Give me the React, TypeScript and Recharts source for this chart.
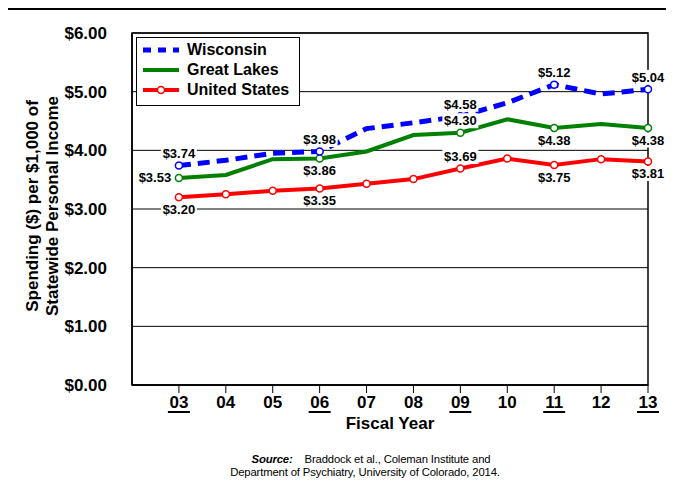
import {
  LineChart,
  Line,
  XAxis,
  YAxis,
  CartesianGrid,
  ReferenceArea,
  LabelList,
  Label,
} from 'recharts';

const years = [3, 4, 5, 6, 7, 8, 9, 10, 11, 12, 13];
const yearLabels = ['03', '04', '05', '06', '07', '08', '09', '10', '11', '12', '13'];
const underlinedYears = [3, 6, 9, 11, 13];

const wisconsin = [3.74, 3.83, 3.95, 3.98, 4.37, 4.47, 4.58, 4.81, 5.12, 4.96, 5.04];
const greatLakes = [3.53, 3.58, 3.85, 3.86, 3.98, 4.26, 4.3, 4.53, 4.38, 4.45, 4.38];
const unitedStates = [3.2, 3.25, 3.31, 3.35, 3.43, 3.51, 3.69, 3.86, 3.75, 3.85, 3.81];

const yTicks = [0, 1, 2, 3, 4, 5, 6];

// where each point's value label sits (null = no label)
type Pos = 'top' | 'bottom' | 'left' | null;
const wiLabels: Pos[] = ['top', null, null, 'top', null, null, 'top', null, 'top', null, 'top'];
const glLabels: Pos[] = ['left', null, null, 'bottom', null, null, 'top', null, 'bottom', null, 'bottom'];
const usLabels: Pos[] = ['bottom', null, null, 'bottom', null, null, 'top', null, 'bottom', null, 'bottom'];

const data = years.map((year, i) => ({
  year,
  wi: wisconsin[i],
  gl: greatLakes[i],
  us: unitedStates[i],
}));

const FONT = 'Arial, "Liberation Sans", Helvetica, sans-serif';
const BLUE = '#0000ff';
const GREEN = '#008000';
const RED = '#ff0000';

const makeDot = (color: string, show: (i: number) => boolean) => (props: any) => {
  const { cx, cy, index } = props;
  if (!show(index) || cx == null) return <g key={`d${index}`} />;
  return (
    <circle
      key={`d${index}`}
      cx={cx}
      cy={cy}
      r={3.5}
      fill="#fff"
      stroke={color}
      strokeWidth={1.5}
      strokeDasharray="none"
    />
  );
};

const makeLabel = (positions: Pos[]) => (props: any) => {
  const { x, y, value, index } = props;
  const pos = positions[index];
  if (!pos) return null;
  let cx = x;
  let cy = y;
  if (pos === 'top') cy = y - 12;
  if (pos === 'bottom') cy = y + 12;
  if (pos === 'left') cx = x - 24;
  const text = `$${Number(value).toFixed(2)}`;
  return (
    <g key={`l${index}`}>
      <rect x={cx - 18} y={cy - 7.5} width={36} height={15} fill="#fff" />
      <text
        x={cx}
        y={cy + 4.5}
        textAnchor="middle"
        fontFamily={FONT}
        fontWeight="bold"
        fontSize={13}
        fill="#000"
      >
        {text}
      </text>
    </g>
  );
};

const YearTick = (props: any) => {
  const { x, y, payload } = props;
  const label = yearLabels[years.indexOf(payload.value)] ?? String(payload.value);
  const under = underlinedYears.includes(payload.value);
  return (
    <g>
      <text
        x={x}
        y={y + 15}
        textAnchor="middle"
        fontFamily={FONT}
        fontWeight="bold"
        fontSize={17}
        fill="#000"
      >
        {label}
      </text>
      {under && <rect x={x - 11} y={y + 18} width={22} height={2} fill="#000" />}
    </g>
  );
};

const YTitle = () => (
  <g fontFamily={FONT} fontWeight="bold" fontSize={17} fill="#000">
    <text x={38} y={206} textAnchor="middle" transform="rotate(-90 38 206)">
      Spending ($) per $1,000 of
    </text>
    <text x={58} y={206} textAnchor="middle" transform="rotate(-90 58 206)">
      Statewide Personal Income
    </text>
  </g>
);

const legendItems = [
  { name: 'Wisconsin', color: BLUE, dash: '8 7', width: 5, dot: false },
  { name: 'Great Lakes', color: GREEN, dash: undefined, width: 4, dot: false },
  { name: 'United States', color: RED, dash: undefined, width: 4, dot: true },
];

const ChartLegend = () => (
  <div
    style={{
      position: 'absolute',
      left: 136,
      top: 37,
      width: 164,
      height: 69,
      border: '1.5px solid #000',
      background: '#fff',
      boxSizing: 'border-box',
      paddingTop: 2,
    }}
  >
    {legendItems.map((it) => (
      <div key={it.name} style={{ display: 'flex', alignItems: 'center', height: 20 }}>
        <svg width={46} height={12} style={{ marginLeft: 4 }}>
          <line
            x1={2}
            y1={6}
            x2={38}
            y2={6}
            stroke={it.color}
            strokeWidth={it.width}
            strokeDasharray={it.dash}
          />
          {it.dot && <circle cx={20} cy={6} r={3.5} fill="#fff" stroke={it.color} strokeWidth={1.5} />}
        </svg>
        <span style={{ fontFamily: FONT, fontWeight: 'bold', fontSize: 16, color: '#000' }}>
          {it.name}
        </span>
      </div>
    ))}
  </div>
);

export default function App() {
  return (
    <div
      style={{
        position: 'relative',
        width: 674,
        height: 496,
        margin: -8,
        overflow: 'hidden',
        background: '#fff',
      }}
    >
      <div
        style={{
          position: 'absolute',
          left: 3,
          top: 6,
          width: 720,
          height: 540,
          borderTop: '4px solid #000',
          borderLeft: '4px solid #000',
        }}
      />
      <div style={{ position: 'absolute', left: 0, top: 0 }}>
        <LineChart width={674} height={496} data={data} margin={{ top: 33, right: 26, bottom: 0, left: 0 }}>
          <CartesianGrid horizontal vertical={false} stroke="#000" strokeWidth={1} />
          <XAxis
            dataKey="year"
            type="number"
            domain={[2, 13]}
            ticks={years}
            interval={0}
            height={111}
            axisLine={{ stroke: '#000', strokeWidth: 1.5 }}
            tickLine={{ stroke: '#000', strokeWidth: 1 }}
            tickSize={8}
            tickMargin={0}
            tick={<YearTick />}
          >
            <Label
              value="Fiscal Year"
              position="insideTop"
              offset={32}
              style={{ fontFamily: FONT, fontWeight: 'bold', fontSize: 17, fill: '#000' }}
            />
          </XAxis>
          <YAxis
            domain={[0, 6]}
            ticks={yTicks}
            width={132}
            axisLine={{ stroke: '#000', strokeWidth: 1.5 }}
            tickLine={false}
            tickMargin={19}
            tickFormatter={(v: number) => `$${v.toFixed(2)}`}
            tick={{ fontFamily: FONT, fontWeight: 'bold', fontSize: 17, fill: '#000' }}
          >
            <Label content={<YTitle />} />
          </YAxis>
          <ReferenceArea x1={2} x2={13} y1={0} y2={6} fill="none" stroke="#000" strokeWidth={1.5} />
          <Line
            dataKey="us"
            stroke={RED}
            strokeWidth={4}
            dot={makeDot(RED, () => true)}
            isAnimationActive={false}
          />
          <Line
            dataKey="gl"
            stroke={GREEN}
            strokeWidth={4}
            dot={makeDot(GREEN, (i) => glLabels[i] !== null)}
            isAnimationActive={false}
          />
          <Line
            dataKey="wi"
            stroke={BLUE}
            strokeWidth={5}
            strokeDasharray="12 7"
            dot={makeDot(BLUE, (i) => wiLabels[i] !== null)}
            isAnimationActive={false}
          />
          {/* invisible copies that only carry the value labels, so they sit above every line */}
          <Line dataKey="us" stroke="none" dot={false} legendType="none" isAnimationActive={false}>
            <LabelList dataKey="us" content={makeLabel(usLabels)} />
          </Line>
          <Line dataKey="gl" stroke="none" dot={false} legendType="none" isAnimationActive={false}>
            <LabelList dataKey="gl" content={makeLabel(glLabels)} />
          </Line>
          <Line dataKey="wi" stroke="none" dot={false} legendType="none" isAnimationActive={false}>
            <LabelList dataKey="wi" content={makeLabel(wiLabels)} />
          </Line>
        </LineChart>
      </div>
      <ChartLegend />
      <div
        style={{
          position: 'absolute',
          left: 0,
          top: 453,
          width: 730,
          textAlign: 'center',
          fontFamily: FONT,
          fontSize: 11.3,
          lineHeight: '12.5px',
          color: '#000',
          letterSpacing: -0.15,
        }}
      >
        <div style={{ paddingLeft: 12 }}>
          <b>
            <i>Source:</i>
          </b>
          &nbsp;&nbsp;&nbsp; Braddock et al., Coleman Institute and
        </div>
        <div>Department of Psychiatry, University of Colorado, 2014.</div>
      </div>
    </div>
  );
}
